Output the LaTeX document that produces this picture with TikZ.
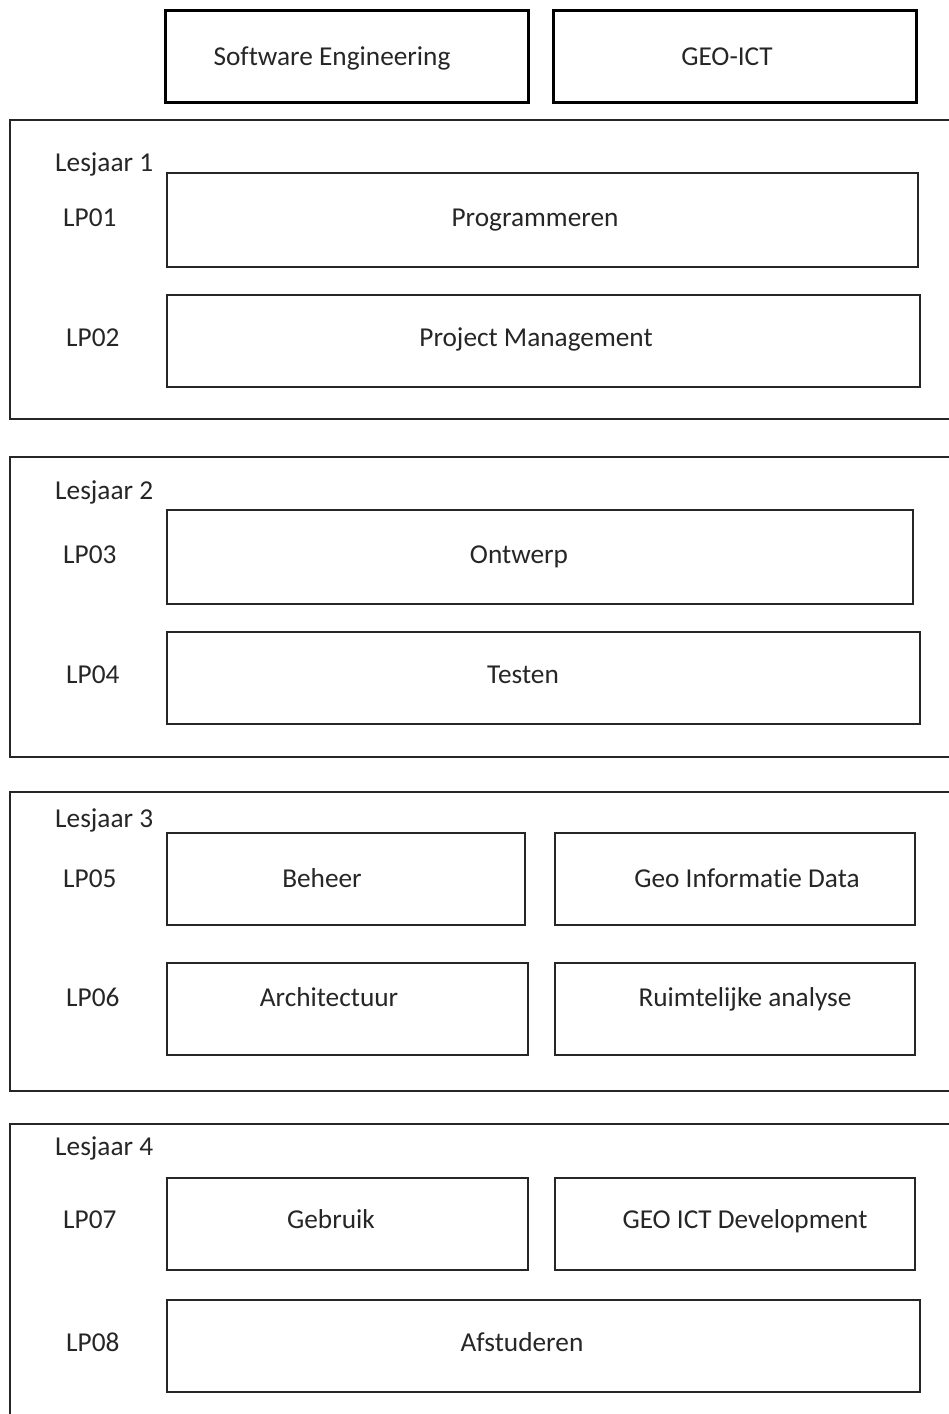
\documentclass[tikz,border=0pt]{standalone}
\usepackage{fontspec}
\setmainfont{Carlito}[RawFeature=-liga]
\newcommand\mkbox[6]{% style, name, x1, y1, x2, y2
  \node[#1, minimum width={#5-#3}, minimum height={#6-#4}] (#2) at ({(#3+#5)/2},{(#4+#6)/2}) {};}
\newcommand\mktxt[4]{% name, x, ycenter, text
  \node[txt] (#1) at (#2,{#3+8.6}) {#4};}
\newcommand\mkltxt[4]{% name, xleft, ycenter, text
  \node[txt, anchor=base west] (#1) at (#2,{#3+8.6}) {#4};}
\begin{document}
\begin{tikzpicture}[x=1pt,y=-1pt,
  frame/.style={draw=black!85, line width=2pt, inner sep=0pt},
  box/.style={draw=black!85, line width=1.6pt, inner sep=0pt},
  topbox/.style={draw=black, line width=3pt, inner sep=0pt},
  txt/.style={font=\fontsize{27.3}{32}\selectfont, text=black!85, inner sep=0pt, anchor=base}]
\useasboundingbox (0,0) rectangle (949,1414);
\clip (0,0) rectangle (949,1414);
% top boxes
\mkbox{topbox}{se}{165}{10}{528}{102}
\mkbox{topbox}{geo}{553}{10}{916}{102}
\mktxt{tse}{332}{57}{Software Engineering}
\mktxt{tgeo}{727}{57}{GEO-ICT}
% frames
\mkbox{frame}{f1}{10}{120}{970}{419}
\mkbox{frame}{f2}{10}{457}{970}{757}
\mkbox{frame}{f3}{10}{792}{970}{1091}
\mkbox{frame}{f4}{10}{1124}{970}{1440}
% year labels
\mkltxt{y1}{55}{163}{Lesjaar 1}
\mkltxt{y2}{55}{491}{Lesjaar 2}
\mkltxt{y3}{55}{819}{Lesjaar 3}
\mkltxt{y4}{55}{1147}{Lesjaar 4}
% LP labels
\mkltxt{lp1}{63}{218}{LP01}
\mkltxt{lp2}{66}{338}{LP02}
\mkltxt{lp3}{63}{555}{LP03}
\mkltxt{lp4}{66}{675}{LP04}
\mkltxt{lp5}{63}{879}{LP05}
\mkltxt{lp6}{66}{998}{LP06}
\mkltxt{lp7}{63}{1220}{LP07}
\mkltxt{lp8}{66}{1343}{LP08}
% module boxes
\mkbox{box}{b1}{167}{173}{918}{267}
\mktxt{t1}{535}{218}{Programmeren}
\mkbox{box}{b2}{167}{295}{920}{387}
\mktxt{t2}{536}{338}{Project Management}
\mkbox{box}{b3}{167}{510}{913}{604}
\mktxt{t3}{519}{555}{Ontwerp}
\mkbox{box}{b4}{167}{632}{920}{724}
\mktxt{t4}{523}{675}{Testen}
\mkbox{box}{b5}{167}{833}{525}{925}
\mktxt{t5}{322}{879}{Beheer}
\mkbox{box}{b5g}{555}{833}{915}{925}
\mktxt{t5g}{747}{879}{Geo Informatie Data}
\mkbox{box}{b6}{167}{963}{528}{1055}
\mktxt{t6}{329}{998}{Architectuur}
\mkbox{box}{b6g}{555}{963}{915}{1055}
\mktxt{t6g}{745}{998}{Ruimtelijke analyse}
\mkbox{box}{b7}{167}{1178}{528}{1270}
\mktxt{t7}{331}{1220}{Gebruik}
\mkbox{box}{b7g}{555}{1178}{915}{1270}
\mktxt{t7g}{745}{1220}{GEO ICT Development}
\mkbox{box}{b8}{167}{1300}{920}{1392}
\mktxt{t8}{522}{1343}{Afstuderen}
\end{tikzpicture}
\end{document}
